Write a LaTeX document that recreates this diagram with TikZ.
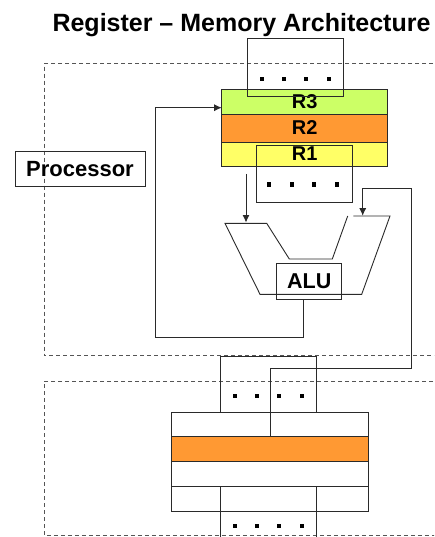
\documentclass[tikz,border=0pt]{standalone}
\usepackage{fontspec}
\setmainfont{Liberation Sans}
\usetikzlibrary{arrows.meta}
\definecolor{regG}{HTML}{CCFF66}
\definecolor{regO}{HTML}{FF9933}
\definecolor{regY}{HTML}{FFFF66}
\definecolor{ln}{HTML}{2A2A2A}
\tikzset{
  frame/.style={draw=ln!80, dashed, dash pattern=on 4pt off 3pt, line width=0.8pt},
  box/.style={draw=ln, line width=0.9pt, rectangle, inner sep=0pt},
  lbl/.style={font=\bfseries\fontsize{20}{22}\selectfont},
  wire/.style={draw=ln, line width=0.9pt},
  arr/.style={wire, -{Latex[length=7.5pt,width=7pt]}},
  dot/.style={fill=black, draw=none, minimum size=4.2pt, inner sep=0pt, rectangle}
}
\begin{document}
\begin{tikzpicture}[x=1pt,y=-1pt]
\useasboundingbox (0,0) rectangle (434,537);
\clip (0,0) rectangle (434,537);
\fill[white] (0,0) rectangle (434,537);
% title
\node[anchor=base, font=\bfseries\fontsize{25}{28}\selectfont, inner sep=0pt] (title) at (241.5,31.7) {Register – Memory Architecture};
% dashed frames
\draw[frame] (440,63.3) -- (44.3,63.3) -- (44.3,355.7) -- (440,355.7);
\draw[frame] (440,381) -- (44.3,381) -- (44.3,535.7) -- (440,535.7);
% processor label
\node[box, minimum width=130pt, minimum height=35pt, font=\bfseries\fontsize{22}{24}\selectfont] (proc) at (80,169.2) {Processor};
% registers
\node[box, fill=regG, minimum width=166pt, minimum height=24.3pt, lbl] (r3) at (304.7,101.85) {R3};
\node[box, fill=regO, minimum width=166pt, minimum height=28pt, lbl] (r2) at (304.7,128) {R2};
\node[box, fill=regY, minimum width=166pt, minimum height=24pt, lbl] (r1) at (304.7,154) {R1};
% register file dot boxes
\node[box, minimum width=96pt, minimum height=57.6pt] (rtop) at (295.3,67.5) {};
\foreach \x in {262,284,306,329} \node[dot] at (\x,79) {};
\node[box, minimum width=96pt, minimum height=57pt] (rbot) at (304,173.7) {};
\foreach \x in {269.3,291.7,314,336.7} \node[dot] at (\x,184.5) {};
% ALU shape
\coordinate (a1) at (225,223.3);
\coordinate (a2) at (266.7,223.3);
\coordinate (a3) at (289.3,259);
\coordinate (a4) at (332.3,259);
\coordinate (a5) at (347.7,216);
\coordinate (a6) at (353.3,216);
\coordinate (a7) at (390,216);
\coordinate (a8) at (361.7,294.3);
\coordinate (a9) at (260,294.3);
\draw[wire] (a5) -- (a4) -- (a3) -- (a2) -- (a1) -- (a9) -- (a8) -- (a7) -- (a6);
\node[box, minimum width=65pt, minimum height=35.7pt, font=\bfseries\fontsize{21.5}{23}\selectfont] (alu) at (309.2,281.2) {ALU};
% register to ALU left input
\coordinate (inA) at (246,174);
\coordinate (inAe) at (246,222.5);
\draw[arr] (inA) -- (inAe);
% ALU result back to register R3
\coordinate (fb1) at (303.3,337.3);
\coordinate (fb2) at (155.7,337.3);
\coordinate (fb3) at (155.7,107.7);
\coordinate (r3in) at (221.7,107.7);
\draw[arr] (alu.south -| fb1) -- (fb1) -- (fb2) -- (fb3) -- (r3in);
% memory
\node[box, minimum width=197.4pt, minimum height=24.3pt] (m1) at (270,424.15) {};
\node[box, fill=regO, minimum width=197.4pt, minimum height=25.4pt] (m2) at (270,449) {};
\node[box, minimum width=197.4pt, minimum height=24.6pt] (m3) at (270,474) {};
\node[box, minimum width=197.4pt, minimum height=25.4pt] (m4) at (270,499) {};
\node[box, minimum width=95.6pt, minimum height=55.6pt] (mtop) at (268.5,384.5) {};
\foreach \x in {235,257.3,279.3,301.7} \node[dot] at (\x,395.7) {};
\node[box, minimum width=95.6pt, minimum height=60pt] (mbot) at (268.5,516.3) {};
\foreach \x in {235,257.3,279.3,301.7} \node[dot] at (\x,526) {};
% memory to ALU right input
\coordinate (mw) at (270.3,436.3);
\coordinate (mw1) at (270.3,368.3);
\coordinate (mw2) at (411,368.3);
\coordinate (mw3) at (411,188.3);
\coordinate (mw4) at (362.7,188.3);
\coordinate (inB) at (362.7,215.7);
\draw[arr] (mw) -- (mw1) -- (mw2) -- (mw3) -- (mw4) -- (inB);
\end{tikzpicture}
\end{document}
